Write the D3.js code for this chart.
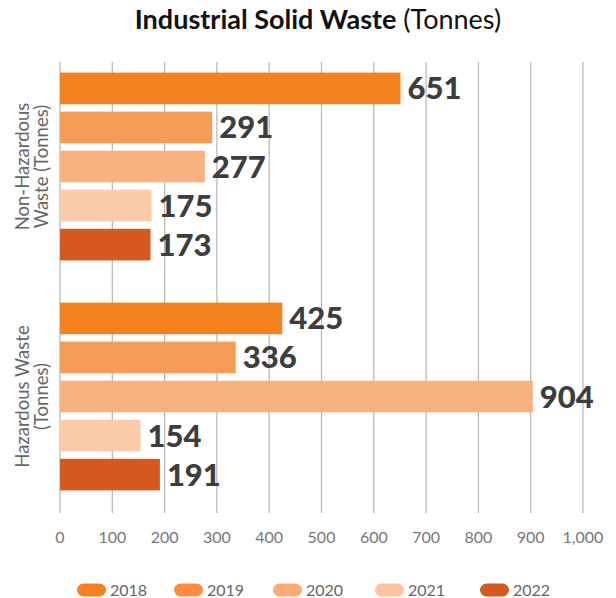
<!DOCTYPE html>
<html><head><meta charset="utf-8">
<script src="https://cdn.jsdelivr.net/npm/d3@7"></script>
<style>body{margin:0;background:#fff}svg{display:block}</style>
</head><body>
<svg id="c" width="616" height="598"></svg>
<script>
const categories = ["Non-Hazardous Waste (Tonnes)", "Hazardous Waste (Tonnes)"];
const categoryLines = [["Non-Hazardous", "Waste (Tonnes)"], ["Hazardous Waste", "(Tonnes)"]];
const years = ["2018", "2019", "2020", "2021", "2022"];
const nonHazardous = [651, 291, 277, 175, 173];
const hazardous = [425, 336, 904, 154, 191];
const barColors = ["#F58220", "#F59C56", "#F8B27F", "#FCCCAA", "#D55A20"];
const legendColors = ["#F58220", "#FF8C3C", "#FFAA70", "#FFC3A0", "#D55A20"];
const tickValues = [0, 100, 200, 300, 400, 500, 600, 700, 800, 900, 1000];

const seriesByCat = [nonHazardous, hazardous];
const svg = d3.select("#c");
const x = d3.scaleLinear().domain([0, 1000]).range([60, 583]);
const y0 = d3.scaleBand().domain(categories).range([51.5, 511.5]).padding(0);
const y1 = d3.scaleBand().domain(years).range([0, y0.bandwidth()]).paddingInner(0.19).paddingOuter(0.54);

// title
const t = svg.append("text").attr("x", 318).attr("y", 29).attr("text-anchor", "middle")
  .attr("font-family", "Lato, sans-serif").attr("font-size", 27).attr("fill", "#111");
t.append("tspan").attr("font-weight", 700).text("Industrial Solid Waste");
t.append("tspan").attr("font-weight", 400).text(" (Tonnes)");

// gridlines
svg.append("g").selectAll("line").data(tickValues).join("line")
  .attr("x1", d => x(d)).attr("x2", d => x(d)).attr("y1", 62).attr("y2", 513)
  .attr("stroke", "#b5b5b5").attr("stroke-width", 1.2);

// tick labels
svg.append("g").selectAll("text").data(tickValues).join("text")
  .attr("x", d => x(d)).attr("y", 543).attr("text-anchor", "middle")
  .attr("font-family", "Lato, sans-serif").attr("font-size", 16).attr("fill", "#777")
  .text(d => d3.format(",")(d));

// bars
categories.forEach((cat, ci) => {
  const g = svg.append("g").attr("transform", `translate(0,${y0(cat)})`);
  const vals = seriesByCat[ci];
  g.selectAll("rect").data(vals).join("rect")
    .attr("x", x(0)).attr("y", (d, i) => y1(years[i]))
    .attr("width", d => x(d) - x(0)).attr("height", y1.bandwidth())
    .attr("fill", (d, i) => barColors[i]);
  g.selectAll("text").data(vals).join("text")
    .attr("x", d => x(d) + 7).attr("y", (d, i) => y1(years[i]) + y1.bandwidth() / 2 + 11)
    .attr("font-family", "Lato, sans-serif").attr("font-weight", 900).attr("font-size", 31)
    .attr("fill", "#3d3d3d").text(d => d);
  // category label
  const cy = y0(cat) + y0.bandwidth() / 2;
  const lab = svg.append("text").attr("transform", `translate(31,${cy}) rotate(-90)`)
    .attr("text-anchor", "middle").attr("font-family", "Lato, sans-serif")
    .attr("font-size", 18.5).attr("fill", "#666");
  categoryLines[ci].forEach((ln, li) => {
    lab.append("tspan").attr("x", 0).attr("y", li === 0 ? -2.5 : 16.5).text(ln);
  });
});

// legend
const legendX = [77, 174, 273, 375, 480];
const lg = svg.append("g").selectAll("g").data(years).join("g")
  .attr("transform", (d, i) => `translate(${legendX[i]},590)`);
lg.append("rect").attr("x", 0).attr("y", -6.5).attr("width", 29).attr("height", 13).attr("rx", 6.5)
  .attr("fill", (d, i) => legendColors[i]);
lg.append("text").attr("x", 33).attr("y", 6).attr("font-family", "Lato, sans-serif")
  .attr("font-size", 16).attr("fill", "#666").text(d => d);
</script>
</body></html>
